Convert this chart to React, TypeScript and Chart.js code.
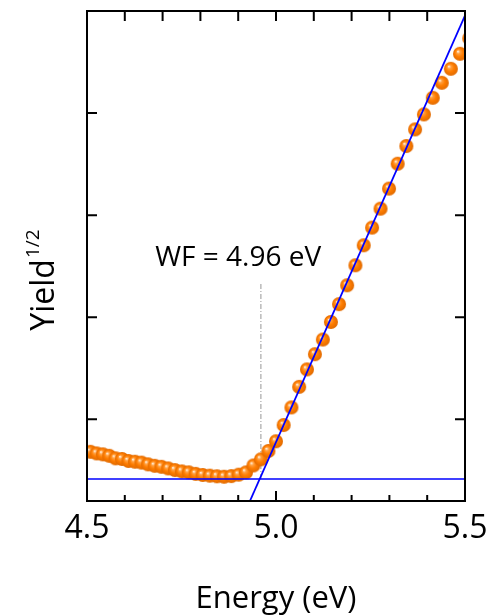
import React, { useEffect, useRef } from "react";
import { Chart, registerables } from "chart.js";

Chart.register(...registerables);

// Photon energies (eV) of the measured points
const energies = [
  4.5091, 4.5255, 4.5421, 4.5588, 4.5756, 4.5926, 4.6097, 4.6269, 4.6442, 4.6617,
  4.6792, 4.697, 4.7148, 4.7328, 4.751, 4.7692, 4.7876, 4.8062, 4.8249, 4.8438,
  4.8627, 4.8819, 4.9012, 4.9206, 4.9402, 4.96, 4.9799, 5.0, 5.0202, 5.0407,
  5.0612, 5.082, 5.1029, 5.124, 5.1452, 5.1667, 5.1883, 5.2101, 5.2321, 5.2542,
  5.2766, 5.2991, 5.3219, 5.3448, 5.368, 5.3913, 5.4148, 5.4386, 5.4626, 5.4867,
  5.5111,
];
// Yield^(1/2) (arb. units)
const yieldSqrt = [
  0.682, 0.666, 0.657, 0.643, 0.618, 0.612, 0.592, 0.585, 0.576, 0.559,
  0.545, 0.535, 0.519, 0.503, 0.49, 0.481, 0.466, 0.455, 0.448, 0.442,
  0.438, 0.444, 0.458, 0.48, 0.548, 0.608, 0.69, 0.785, 0.944, 1.117,
  1.318, 1.489, 1.638, 1.782, 1.954, 2.128, 2.313, 2.509, 2.705, 2.878,
  3.064, 3.26, 3.504, 3.677, 3.84, 3.987, 4.15, 4.297, 4.434, 4.581,
  4.733,
];

const baselineX = [4.5, 5.5];
const baselineY = [0.415, 0.415];
const fitX = [4.931, 5.5];
const fitY = [0.2, 4.955];
const wfX = [4.96, 4.96];
const wfY = [0.415, 2.343];
const wfLabel = "WF = 4.96 eV";
const wfLabelPos = [4.9, 2.5];

const xMajorTicks = [4.5, 5.0, 5.5];
const xMinorTicks = [4.6, 4.7, 4.8, 4.9, 5.1, 5.2, 5.3, 5.4];
const yTicks = [1, 2, 3, 4];
const xRange = [4.5, 5.5];
const yRange = [0.2, 5.0];
const xTitle = "Energy (eV)";
const yTitle = "Yield";
const yTitleSup = "1/2";

const FONT = '"Open Sans", "DejaVu Sans", sans-serif';

function makeSphere(r: number): HTMLCanvasElement {
  const size = Math.ceil(r * 2) + 2;
  const c = document.createElement("canvas");
  c.width = size;
  c.height = size;
  const g = c.getContext("2d")!;
  const cx = size / 2;
  const cy = size / 2;
  const grad = g.createRadialGradient(cx - r * 0.3, cy - r * 0.35, r * 0.05, cx, cy, r);
  grad.addColorStop(0, "#fff0de");
  grad.addColorStop(0.22, "#ffa040");
  grad.addColorStop(0.55, "#ff7d00");
  grad.addColorStop(1, "#e06a00");
  g.fillStyle = grad;
  g.beginPath();
  g.arc(cx, cy, r, 0, Math.PI * 2);
  g.fill();
  return c;
}

const framePlugin = {
  id: "frame",
  afterDatasetsDraw(chart: any) {
    const { ctx, chartArea: a, scales } = chart;
    const x = scales.x;
    const y = scales.y;
    ctx.save();
    ctx.strokeStyle = "#000";
    ctx.lineWidth = 2;
    ctx.strokeRect(a.left, a.top, a.right - a.left, a.bottom - a.top);
    ctx.beginPath();
    for (const v of xMajorTicks) {
      const px = x.getPixelForValue(v);
      ctx.moveTo(px, a.bottom);
      ctx.lineTo(px, a.bottom - 10);
      ctx.moveTo(px, a.top);
      ctx.lineTo(px, a.top + 10);
    }
    for (const v of xMinorTicks) {
      const px = x.getPixelForValue(v);
      ctx.moveTo(px, a.bottom);
      ctx.lineTo(px, a.bottom - 6);
      ctx.moveTo(px, a.top);
      ctx.lineTo(px, a.top + 10);
    }
    for (const v of yTicks) {
      const py = y.getPixelForValue(v);
      ctx.moveTo(a.left, py);
      ctx.lineTo(a.left + 10, py);
      ctx.moveTo(a.right, py);
      ctx.lineTo(a.right - 10, py);
    }
    ctx.stroke();

    // WF annotation
    ctx.fillStyle = "#000";
    ctx.font = `28px ${FONT}`;
    ctx.textAlign = "center";
    ctx.textBaseline = "alphabetic";
    ctx.fillText(wfLabel, x.getPixelForValue(wfLabelPos[0]), y.getPixelForValue(wfLabelPos[1]));

    // Y title with superscript
    ctx.translate(54, y.getPixelForValue(2.36));
    ctx.rotate(-Math.PI / 2);
    ctx.textAlign = "left";
    ctx.font = `32px ${FONT}`;
    const w1 = ctx.measureText(yTitle).width;
    ctx.font = `19px ${FONT}`;
    const w2 = ctx.measureText(yTitleSup).width;
    const start = -(w1 + w2) / 2;
    ctx.font = `32px ${FONT}`;
    ctx.fillText(yTitle, start, 0);
    ctx.font = `19px ${FONT}`;
    ctx.fillText(yTitleSup, start + w1 + 1, -15);
    ctx.restore();
  },
};

export default function App() {
  const ref = useRef<HTMLCanvasElement | null>(null);

  useEffect(() => {
    if (!ref.current) return;
    const sphere = makeSphere(7);
    const chart = new Chart(ref.current, {
      type: "scatter",
      data: {
        datasets: [
          {
            label: "baseline",
            data: baselineX.map((v, i) => ({ x: v, y: baselineY[i] })),
            showLine: true,
            borderColor: "#0000ff",
            borderWidth: 1.6,
            pointRadius: 0,
            order: 0,
          },
          {
            label: "fit",
            data: fitX.map((v, i) => ({ x: v, y: fitY[i] })),
            showLine: true,
            borderColor: "#0000ff",
            borderWidth: 1.8,
            pointRadius: 0,
            order: 0,
          },
          {
            label: "data",
            data: energies.map((v, i) => ({ x: v, y: yieldSqrt[i] })),
            pointStyle: sphere as any,
            pointRadius: 7,
            showLine: false,
            order: 1,
          },
          {
            label: "wf",
            data: wfX.map((v, i) => ({ x: v, y: wfY[i] })),
            showLine: true,
            borderColor: "#a8a8a8",
            borderWidth: 1.2,
            borderDash: [5, 2, 1, 2],
            pointRadius: 0,
            order: 2,
          },
        ],
      },
      options: {
        responsive: false,
        animation: false,
        devicePixelRatio: 1,
        layout: { padding: { top: 11, right: 23, left: 0, bottom: 0 } },
        plugins: { legend: { display: false }, tooltip: { enabled: false } },
        scales: {
          x: {
            type: "linear",
            min: xRange[0],
            max: xRange[1],
            grid: { display: false, drawTicks: false },
            border: { display: false },
            ticks: {
              stepSize: 0.5,
              padding: 9,
              color: "#000",
              font: { family: FONT, size: 32 },
              callback: (v: any) => Number(v).toFixed(1),
              maxRotation: 0,
            },
            title: {
              display: true,
              text: xTitle,
              color: "#000",
              font: { family: FONT, size: 31, lineHeight: 0.8 },
              padding: { top: 0, bottom: 3 },
            },
            afterFit: (s: any) => {
              s.height = 114;
              s.paddingLeft = 0;
              s.paddingRight = 0;
            },
          },
          y: {
            type: "linear",
            min: yRange[0],
            max: yRange[1],
            grid: { display: false, drawTicks: false },
            border: { display: false },
            ticks: { display: false },
            afterFit: (s: any) => {
              s.width = 87;
              s.paddingTop = 0;
              s.paddingBottom = 0;
            },
          },
        },
      },
      plugins: [framePlugin],
    });
    return () => chart.destroy();
  }, []);

  return (
    <div style={{ position: "fixed", left: 0, top: 0, width: 488, height: 615, background: "#fff" }}>
      <canvas ref={ref} width={488} height={615} style={{ display: "block" }} />
    </div>
  );
}
